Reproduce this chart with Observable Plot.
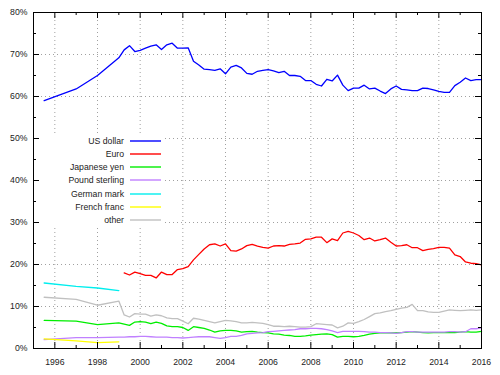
<!DOCTYPE html>
<html><head><meta charset="utf-8">
<script src="https://cdn.jsdelivr.net/npm/d3@7"></script>
<script src="https://cdn.jsdelivr.net/npm/@observablehq/plot@0.6"></script>
<style>
body{margin:0;background:#fff;}
#wrap{position:relative;width:500px;height:375px;font-family:"Liberation Sans",Arial,sans-serif;}
#legend{position:absolute;background:#fff;}
.lg-txt{position:absolute;font-size:8.7px;color:#222;text-align:right;line-height:13px;height:13px;white-space:nowrap;}
#legend svg{position:absolute;left:0;top:0;}
</style></head><body><div id="wrap"></div>
<script>
// ---- data (percent of allocated reserves) ----
const currencies = ["US dollar","Euro","Japanese yen","Pound sterling","German mark","French franc","other"];
const colors = ["#0000ff","#ff0000","#00ee00","#c080ff","#00eeee","#ffff00","#c0c0c0"];
const annualDates = [1995.5, 1997, 1998, 1999];
const quarterDates = d3.range(68).map(i => 1999.25 + i / 4);

const usdAnnual = [59.0, 61.8, 65.0, 69.2];
const usdQuarterly = [71.1,72.1,70.7, 71.0,71.5,72.0,72.3, 71.2,72.3,72.7,71.5, 71.5,71.6,68.4,67.5, 66.5,66.4,66.2,66.6, 65.4,67.0,67.4,66.8, 65.5,65.3,66.0,66.2, 66.4,66.1,65.7,66.0, 65.0,65.0,64.8,63.8, 63.8,62.9,62.5,64.1, 63.7,65.1,62.7,61.4, 62.0,62.0,62.7,61.8, 62.0,61.3,60.7,61.8, 62.5,61.7,61.6,61.4, 61.4,62.0,61.9,61.6, 61.2,61.0,61.0,62.6, 63.4,64.4,63.8,64.0, 64.0];
const eurQuarterly = [18.0,17.5,18.2, 17.8,17.4,17.4,16.8, 18.2,17.6,17.6,18.8, 19.0,19.5,21.1,22.4, 23.7,24.7,24.9,24.4, 24.9,23.3,23.2,23.7, 24.5,24.8,24.4,24.1, 23.9,24.4,24.5,24.4, 24.8,24.9,25.1,26.0, 26.1,26.5,26.5,25.2, 26.1,25.7,27.5,27.9, 27.5,26.9,25.9,26.3, 25.6,25.9,26.3,25.3, 24.4,24.5,24.7,24.0, 24.0,23.3,23.6,23.8, 24.1,24.1,23.9,22.3, 21.9,20.6,20.3,20.2, 19.9];
const jpyAnnual = [6.7, 6.5, 5.7, 6.1];
const jpyQuarterly = [5.8,5.5,6.3, 6.4,6.3,5.9,6.3, 6.0,5.4,5.2,5.2, 5.0,4.3,5.2,5.0, 4.8,4.4,3.9,4.2, 4.3,4.3,4.2,3.9, 4.0,4.1,3.9,3.8, 3.7,3.5,3.4,3.2, 3.1,2.9,2.9,3.0, 3.2,3.3,3.4,3.5, 3.3,2.7,2.9,2.9, 2.8,2.9,3.1,3.4, 3.6,3.7,3.7,3.7, 3.7,3.8,3.9,4.0, 3.9,3.8,3.7,3.8, 3.8,3.8,3.8,3.8, 3.9,4.0,3.9,3.9, 4.1];
const gbpAnnual = [2.1, 2.6, 2.6, 2.7];
const gbpQuarterly = [2.7,2.8,2.8, 2.9,2.9,2.8,2.7, 2.7,2.7,2.6,2.6, 2.5,2.6,2.7,2.8, 2.8,2.8,2.6,2.4, 2.6,2.9,2.9,3.1, 3.5,3.6,3.7,3.8, 4.0,4.1,4.2,4.3, 4.4,4.5,4.7,4.7, 4.8,4.8,4.7,4.5, 4.2,3.8,4.1,4.1, 4.1,4.1,4.0,3.9, 3.9,3.8,3.8,3.7, 3.6,3.8,4.0,4.0, 3.9,3.9,3.9,3.9, 3.9,3.9,4.0,4.0, 3.9,4.0,4.7,4.7, 4.9];
const demAnnual = [15.6, 14.8, 14.4, 13.8];
const frfAnnual = [2.3, 1.8, 1.4, 1.6];
const otherAnnual = [12.2, 11.7, 10.3, 11.3];
const otherQuarterly = [8.0,7.5,8.3, 8.2,8.2,7.7,8.0, 7.8,7.3,7.1,7.1, 6.5,5.9,7.2,7.0, 6.7,6.4,6.1,6.4, 6.7,6.6,6.4,6.1, 6.1,6.2,6.1,6.0, 5.7,5.3,5.3,5.2, 5.3,5.2,5.1,5.1, 5.2,5.9,5.8,5.7, 5.6,4.9,5.3,6.1, 6.0,6.4,6.9,7.6, 8.3,8.5,8.8,9.0, 9.3,9.6,9.8,10.5, 9.0,9.0,8.7,8.6, 8.6,8.9,9.2,9.1, 9.0,9.1,9.2,9.1, 9.2];

const xLabelYears = [1996,1998,2000,2002,2004,2006,2008,2010,2012,2014,2016];
const xMinorYears = [1995,1997,1999,2001,2003,2005,2007,2009,2011,2013,2015];
const yLabelPct = [0,10,20,30,40,50,60,70,80];
const yMinorPct = [5,15,25,35,45,55,65,75];
const xGridYears = [1996,1998,2000,2002,2004,2006,2008,2010,2012,2014];
const yGridPct = [10,20,30,40,50,60,70];

// ---- build table ----
const seriesDef = [
  ["US dollar", usdAnnual, usdQuarterly],
  ["Euro", [], eurQuarterly],
  ["Japanese yen", jpyAnnual, jpyQuarterly],
  ["Pound sterling", gbpAnnual, gbpQuarterly],
  ["German mark", demAnnual, []],
  ["French franc", frfAnnual, []],
  ["other", otherAnnual, otherQuarterly]
];
const rows = [];
for (const [name, ann, qtr] of seriesDef) {
  ann.forEach((v, i) => rows.push({currency: name, date: annualDates[i], value: v}));
  qtr.forEach((v, i) => rows.push({currency: name, date: quarterDates[i], value: v}));
}

const W = 500, H = 375, mL = 33, mR = 19, mT = 12, mB = 27;
const iW = W - mL - mR, iH = H - mT - mB;
const grid = {stroke: "#a0a0a0", strokeOpacity: 1, strokeDasharray: "1,3", strokeWidth: 1};

const chart = Plot.plot({
  width: W, height: H,
  marginLeft: mL, marginRight: mR, marginTop: mT, marginBottom: mB,
  style: {fontFamily: "'Liberation Sans', Arial, sans-serif", fontSize: "8.7px", background: "white", color: "#222"},
  x: {domain: [1995, 2016]},
  y: {domain: [0, 80]},
  color: {domain: currencies, range: colors},
  marks: [
    Plot.gridX(xGridYears, grid),
    Plot.gridY(yGridPct, grid),
    Plot.line(rows, {x: "date", y: "value", z: "currency", stroke: "currency", strokeWidth: 1.3}),
    Plot.ruleX(xLabelYears, {insetTop: iH - 6, stroke: "#000"}),
    Plot.ruleX(xMinorYears, {insetTop: iH - 3, stroke: "#000"}),
    Plot.ruleX(xLabelYears, {insetBottom: iH - 6, stroke: "#000"}),
    Plot.ruleX(xMinorYears, {insetBottom: iH - 3, stroke: "#000"}),
    Plot.ruleY(yLabelPct, {insetRight: iW - 6, stroke: "#000"}),
    Plot.ruleY(yMinorPct, {insetRight: iW - 3, stroke: "#000"}),
    Plot.ruleY(yLabelPct, {insetLeft: iW - 6, stroke: "#000"}),
    Plot.ruleY(yMinorPct, {insetLeft: iW - 3, stroke: "#000"}),
    Plot.frame({stroke: "#000"}),
    Plot.axisX(xLabelYears, {tickSize: 0, tickPadding: 10, tickFormat: d => String(d), label: null}),
    Plot.axisY(yLabelPct, {tickSize: 0, tickPadding: 6, tickFormat: d => d + "%", label: null})
  ]
});
const wrap = document.getElementById("wrap");
wrap.appendChild(chart);

// ---- legend (overlay, white box like gnuplot key) ----
const lg = document.createElement("div");
lg.id = "legend";
const boxL = 40, boxT = 134, boxW = 122, boxH = 93;
Object.assign(lg.style, {left: boxL + "px", top: boxT + "px", width: boxW + "px", height: boxH + "px"});
wrap.appendChild(lg);
const ns = "http://www.w3.org/2000/svg";
const sw = document.createElementNS(ns, "svg");
sw.setAttribute("width", boxW); sw.setAttribute("height", boxH);
lg.appendChild(sw);
currencies.forEach((name, k) => {
  const cy = Math.round(141 + k * 13.15 - boxT);
  const t = document.createElement("div");
  t.className = "lg-txt";
  t.textContent = name;
  Object.assign(t.style, {left: "0px", width: (124 - boxL) + "px", top: (cy - 6.5) + "px"});
  lg.appendChild(t);
  const l = document.createElementNS(ns, "line");
  l.setAttribute("x1", 130 - boxL); l.setAttribute("x2", 161 - boxL);
  l.setAttribute("y1", cy); l.setAttribute("y2", cy);
  l.setAttribute("stroke", colors[k]); l.setAttribute("stroke-width", 1.4);
  sw.appendChild(l);
});
</script></body></html>
